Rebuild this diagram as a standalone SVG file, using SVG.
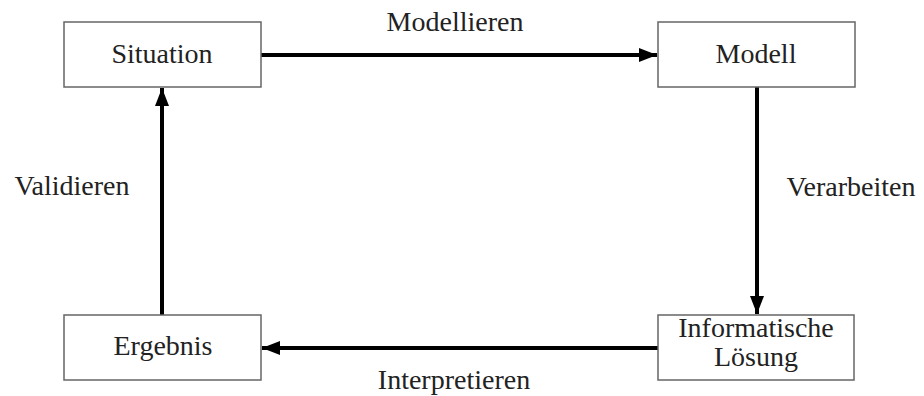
<svg xmlns="http://www.w3.org/2000/svg" width="924" height="396" viewBox="0 0 924 396">
<style>
.box{fill:#fff;stroke:#666;stroke-width:1.5}
.t{font-family:"Liberation Serif","Times New Roman",serif;font-size:28px;fill:#222;text-anchor:middle}
.c{stroke:#000;stroke-width:4;fill:none}
</style>
<defs>
<marker id="ah" markerUnits="userSpaceOnUse" markerWidth="20" markerHeight="14" refX="18" refY="7" orient="auto">
<path d="M0,0 L18,7 L0,14 Z" fill="#000"/>
</marker>
</defs>
<rect width="924" height="396" fill="#fff"/>
<g id="connectors">
<line class="c" x1="261" y1="55" x2="657" y2="55" marker-end="url(#ah)"/>
<line class="c" x1="757" y1="87" x2="757" y2="314" marker-end="url(#ah)"/>
<line class="c" x1="658" y1="348" x2="262" y2="348" marker-end="url(#ah)"/>
<line class="c" x1="162" y1="315" x2="162" y2="88" marker-end="url(#ah)"/>
<text class="t" x="455" y="31">Modellieren</text>
<text class="t" x="851" y="196">Verarbeiten</text>
<text class="t" x="454" y="389">Interpretieren</text>
<text class="t" x="72" y="195">Validieren</text>
</g>
<g id="situation">
<rect class="box" x="64" y="22" width="197" height="65"/>
<text class="t" x="162" y="63">Situation</text>
</g>
<g id="modell">
<rect class="box" x="658" y="22" width="197" height="65"/>
<text class="t" x="756" y="63">Modell</text>
</g>
<g id="loesung">
<rect class="box" x="658" y="315" width="196" height="65"/>
<text class="t" x="756" y="337">Informatische</text>
<text class="t" x="756" y="366">Lösung</text>
</g>
<g id="ergebnis">
<rect class="box" x="64" y="315" width="197" height="65"/>
<text class="t" x="163" y="355">Ergebnis</text>
</g>
</svg>
